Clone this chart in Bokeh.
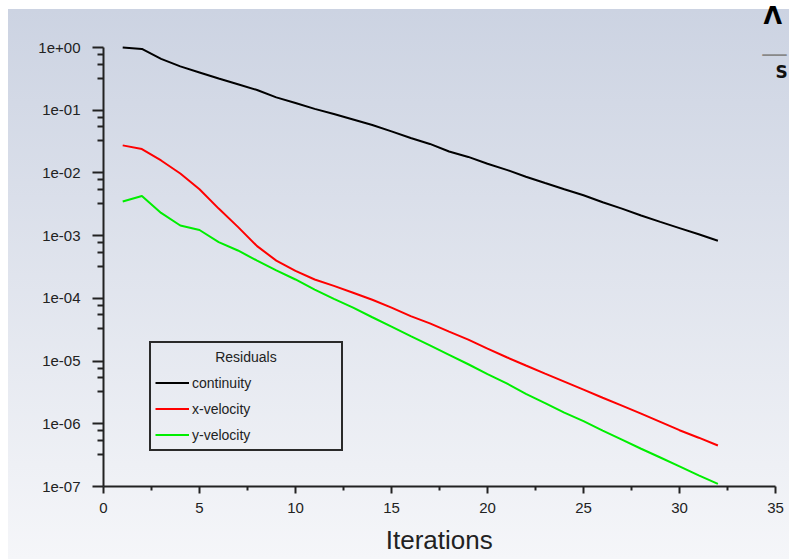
from bokeh.plotting import figure
from bokeh.models import (Range1d, FixedTicker, CustomJSTickFormatter, Legend,
                          LegendItem, Label, InlineStyleSheet)
from bokeh.embed import file_html
from bokeh.resources import INLINE

# ---------------- data ----------------
iterations = list(range(1, 33))

continuity = [1.0, 0.95, 0.66, 0.50, 0.40, 0.32, 0.26, 0.21, 0.16, 0.13,
              0.105, 0.087, 0.071, 0.058, 0.046, 0.036, 0.029, 0.022, 0.018, 0.014,
              0.0112, 0.0087, 0.0069, 0.0055, 0.0044, 0.0034, 0.0027, 0.0021, 0.00166, 0.00132,
              0.00105, 0.00083]

x_velocity = [0.0275, 0.024, 0.0158, 0.0098, 0.0055, 0.0027, 0.00138, 6.8e-4, 4.0e-4, 2.75e-4,
              2.0e-4, 1.58e-4, 1.23e-4, 9.5e-5, 7.1e-5, 5.2e-5, 4.0e-5, 2.95e-5, 2.2e-5, 1.58e-5,
              1.15e-5, 8.5e-6, 6.3e-6, 4.7e-6, 3.5e-6, 2.6e-6, 1.95e-6, 1.45e-6, 1.07e-6, 7.9e-7,
              6.0e-7, 4.5e-7]

y_velocity = [0.0035, 0.0043, 0.0023, 0.00145, 0.00123, 7.9e-4, 5.8e-4, 4.0e-4, 2.8e-4, 2.0e-4,
              1.38e-4, 9.8e-5, 7.1e-5, 5.0e-5, 3.55e-5, 2.5e-5, 1.78e-5, 1.26e-5, 8.9e-6, 6.2e-6,
              4.4e-6, 3.0e-6, 2.14e-6, 1.51e-6, 1.1e-6, 7.8e-7, 5.6e-7, 4.0e-7, 2.9e-7, 2.1e-7,
              1.5e-7, 1.1e-7]

series_names = ["continuity", "x-velocity", "y-velocity"]
series_values = [continuity, x_velocity, y_velocity]
series_colors = ["#000000", "#ff0000", "#00ee00"]

x_ticks = [0, 5, 10, 15, 20, 25, 30, 35]
x_minor_ticks = [2.5, 7.5, 12.5, 17.5, 22.5, 27.5, 32.5]
y_tick_exponents = [-7, -6, -5, -4, -3, -2, -1, 0]
y_tick_labels = ["1e-07", "1e-06", "1e-05", "1e-04", "1e-03", "1e-02", "1e-01", "1e+00"]
y_minor_multipliers = [3.25, 5.45, 7.75]

legend_title = "Residuals"
x_axis_title = "Iterations"

FONT = "Liberation Sans"
TXT = "#222222"

y_ticks = [10.0 ** e for e in y_tick_exponents]
y_minor = [m * 10.0 ** e for e in y_tick_exponents[:-1] for m in y_minor_multipliers]

# axes occupy 0..35 and 1e-7..1e0; the frame is stretched to the top/right
# canvas edges (axis bounds keep the axis lines at the data extent)
X_PX = 672.0 / 35.0           # pixels per iteration
DEC_PX = 439.0 / 7.0          # pixels per decade
x_end = 35 + 14 / X_PX
y_top = 10 ** (47 / DEC_PX)

p = figure(width=789, height=559,
           x_range=Range1d(0, x_end), y_range=Range1d(1e-7, y_top),
           y_axis_type="log", output_backend="svg", toolbar_location=None,
           min_border_left=103, min_border_right=0,
           min_border_top=0, min_border_bottom=73)

p.grid.visible = False
p.outline_line_color = None
p.background_fill_color = None
p.border_fill_color = None
p.stylesheets = [InlineStyleSheet(css=(
    ":host { background: linear-gradient(to bottom, #ccd3e2, #f5f6f9) "
    "8px 9px / calc(100% - 8px) calc(100% - 9px) no-repeat, #ffffff; }"))]

# x axis (two trailing no-break spaces re-centre the title under 0..35)
xa = p.xaxis[0]
xa.bounds = (0, 35)
xa.ticker = FixedTicker(ticks=x_ticks, minor_ticks=x_minor_ticks)
xa.axis_label = x_axis_title + "\u00a0\u00a0"
xa.axis_label_text_font = FONT
xa.axis_label_text_font_size = "26px"
xa.axis_label_text_font_style = "normal"
xa.axis_label_text_color = TXT
xa.axis_label_standoff = 9
xa.major_label_standoff = 9
xa.major_tick_in = 0
xa.major_tick_out = 7
xa.minor_tick_in = 0
xa.minor_tick_out = 4

# y axis
ya = p.yaxis[0]
ya.bounds = (1e-7, 1.0)
ya.ticker = FixedTicker(ticks=y_ticks, minor_ticks=y_minor)
ya.formatter = CustomJSTickFormatter(
    args=dict(labels=y_tick_labels),
    code="const i = Math.round(Math.log10(tick)) + 7; return labels[i];")
ya.major_label_standoff = 12
ya.major_tick_in = 0
ya.major_tick_out = 11
ya.minor_tick_in = 0
ya.minor_tick_out = 6

for ax in (xa, ya):
    ax.axis_line_color = TXT
    ax.axis_line_width = 2
    ax.major_tick_line_color = TXT
    ax.major_tick_line_width = 2
    ax.minor_tick_line_color = TXT
    ax.minor_tick_line_width = 2
    ax.major_label_text_font = FONT
    ax.major_label_text_font_size = "15px"
    ax.major_label_text_color = TXT

# series
items = []
for name, vals, col in zip(series_names, series_values, series_colors):
    r = p.line(iterations, vals, line_color=col, line_width=2)
    items.append(LegendItem(label=name, renderers=[r]))

legend = Legend(items=items, location=(46, 35), margin=0,
                title=" ", title_text_font=FONT, title_text_font_size="14px",
                title_standoff=9, padding=4, spacing=5,
                label_height=21, glyph_height=21, glyph_width=34,
                label_standoff=3, label_width=145,
                border_line_color="#2a2a2a", border_line_width=2, border_line_alpha=1.0,
                background_fill_alpha=0,
                label_text_font=FONT, label_text_font_size="14px",
                label_text_color=TXT)
p.add_layout(legend)

p.add_layout(Label(x=7.42, y=10 ** -4.93, text=legend_title,
                   text_align="center", text_baseline="middle",
                   text_font=FONT, text_font_size="14px", text_color=TXT))

# logo fragments in the top-right corner
p.add_layout(Label(x=(763 - 103) / X_PX, y=10 ** ((47 - 15) / DEC_PX), text="Λ",
                   text_align="left", text_baseline="middle",
                   text_font="DejaVu Sans", text_font_style="bold",
                   text_font_size="24px", text_color="#000000"))
p.add_layout(Label(x=(762 - 103) / X_PX, y=10 ** ((47 - 54) / DEC_PX), text="──",
                   text_align="left", text_baseline="middle",
                   text_font="DejaVu Sans", text_font_size="20px", text_color="#888888"))
p.add_layout(Label(x=(775 - 103) / X_PX, y=10 ** ((47 - 71) / DEC_PX), text="S",
                   text_align="left", text_baseline="middle",
                   text_font="DejaVu Sans", text_font_style="bold",
                   text_font_size="17px", text_color="#111111"))

open("out.html", "w").write(file_html(p, INLINE))
